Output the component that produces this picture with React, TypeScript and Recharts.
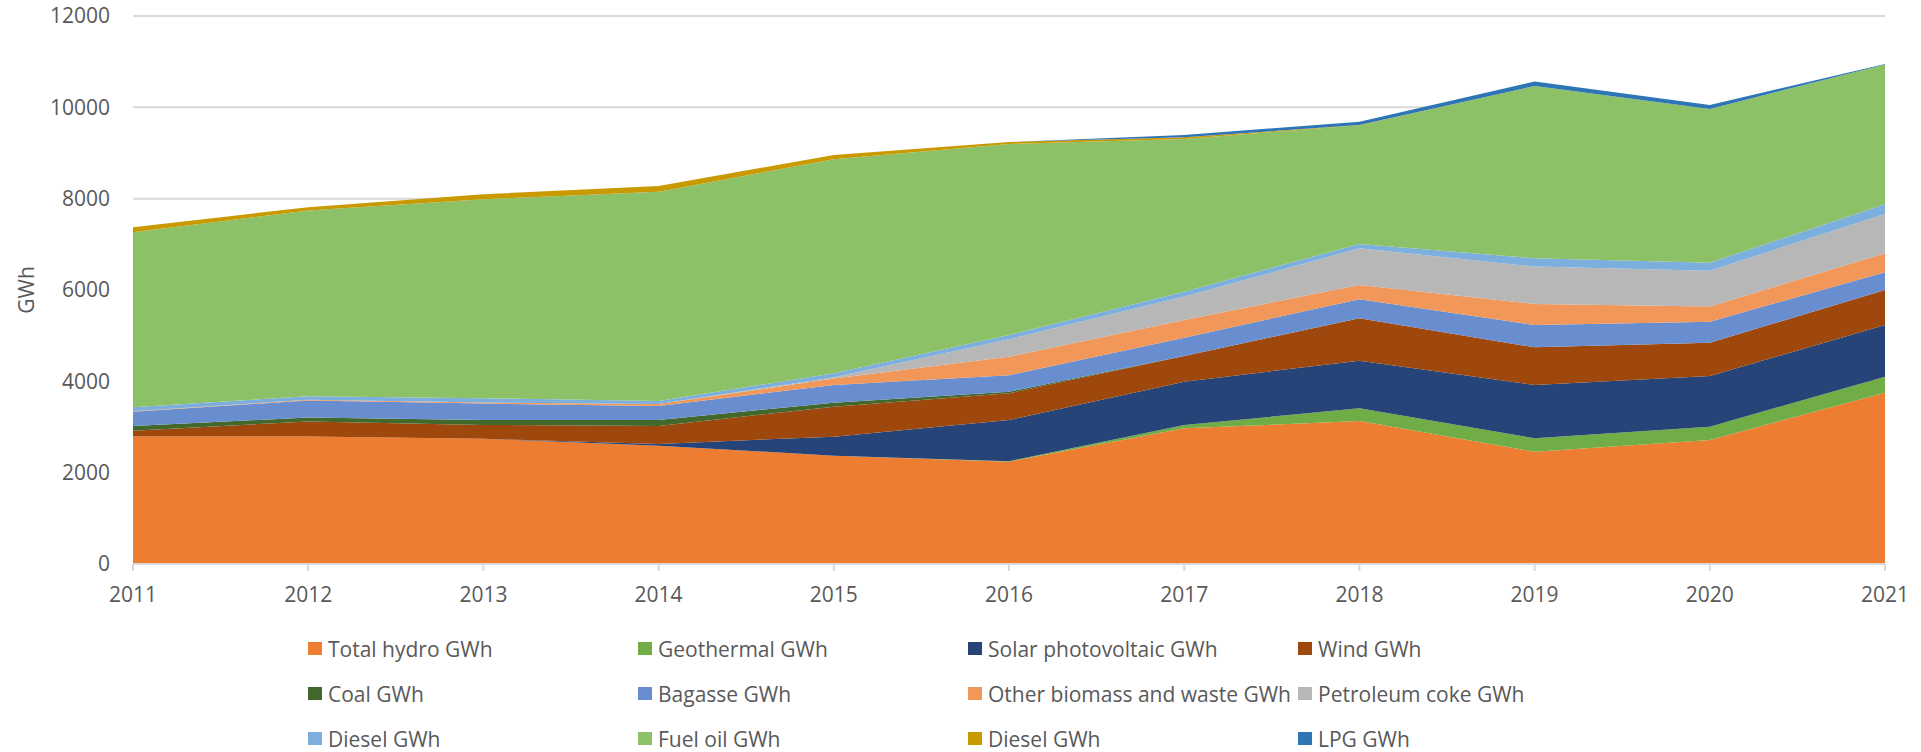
import { Area, AreaChart, CartesianGrid, Legend, XAxis, YAxis } from "recharts";

const years = ["2011", "2012", "2013", "2014", "2015", "2016", "2017", "2018", "2019", "2020", "2021"];

const hydro = [2790, 2790, 2740, 2590, 2372, 2241, 2971, 3132, 2460, 2716, 3752];
const geothermal = [0, 0, 0, 0, 0, 10, 73, 277, 292, 292, 351];
const solar = [0, 0, 0, 40, 417, 903, 949, 1044, 1168, 1109, 1131];
const wind = [130, 330, 306, 392, 657, 584, 562, 927, 825, 730, 767];
const coal = [100, 88, 110, 132, 87, 36, 0, 0, 0, 0, 0];
const bagasse = [315, 372, 356, 306, 387, 358, 402, 416, 489, 460, 387];
const otherBiomass = [10, 15, 23, 44, 140, 409, 387, 314, 460, 329, 416];
const petcoke = [0, 0, 0, 0, 30, 379, 511, 803, 818, 788, 861];
const dieselA = [90, 80, 95, 66, 86, 95, 109, 95, 182, 175, 212];
const fuelOil = [3830, 4066, 4358, 4584, 4686, 4183, 3343, 2599, 3774, 3366, 3063];
const dieselB = [110, 73, 110, 124, 95, 44, 37, 5, 0, 0, 0];
const lpg = [0, 0, 0, 0, 0, 0, 51, 75, 95, 87, 10];

const yTicks = [0, 2000, 4000, 6000, 8000, 10000, 12000];

const series = [
  { key: "hydro", name: "Total hydro GWh", color: "#ED7D31", values: hydro },
  { key: "geothermal", name: "Geothermal GWh", color: "#70AD47", values: geothermal },
  { key: "solar", name: "Solar photovoltaic GWh", color: "#264478", values: solar },
  { key: "wind", name: "Wind GWh", color: "#9E480E", values: wind },
  { key: "coal", name: "Coal GWh", color: "#43682B", values: coal },
  { key: "bagasse", name: "Bagasse GWh", color: "#698ED0", values: bagasse },
  { key: "otherBiomass", name: "Other biomass and waste GWh", color: "#F1975A", values: otherBiomass },
  { key: "petcoke", name: "Petroleum coke GWh", color: "#B7B7B7", values: petcoke },
  { key: "dieselA", name: "Diesel GWh", color: "#7CAFDD", values: dieselA },
  { key: "fuelOil", name: "Fuel oil GWh", color: "#8CC168", values: fuelOil },
  { key: "dieselB", name: "Diesel GWh", color: "#C99A00", values: dieselB },
  { key: "lpg", name: "LPG GWh", color: "#2E75B6", values: lpg },
];

const data = years.map((year, i) => {
  const row: Record<string, string | number> = { year };
  series.forEach((s) => {
    row[s.key] = s.values[i];
  });
  return row;
});

const FONT = "'Open Sans', sans-serif";
const TEXT = "#595959";
const FS = 21;

const renderLegend = () => (
  <div
    style={{
      display: "grid",
      gridTemplateColumns: "repeat(4, 330px)",
      marginLeft: 308,
      fontFamily: FONT,
      fontSize: FS,
      color: TEXT,
    }}
  >
    {series.map((s) => (
      <div key={s.key} style={{ display: "flex", alignItems: "center", height: 45 }}>
        <span style={{ width: 14, height: 13, background: s.color, marginRight: 6, display: "inline-block" }} />
        <span style={{ whiteSpace: "nowrap" }}>{s.name}</span>
      </div>
    ))}
  </div>
);

const renderYLabel = (props: any) => {
  const vb = props.viewBox || {};
  const cx = 26;
  const cy = (vb.y ?? 16) + (vb.height ?? 548) / 2;
  return (
    <text
      x={cx}
      y={cy}
      transform={`rotate(-90 ${cx} ${cy})`}
      textAnchor="middle"
      dominantBaseline="central"
      fill={TEXT}
      fontSize={FS}
      fontFamily={FONT}
    >
      GWh
    </text>
  );
};

export default function App() {
  return (
    <div style={{ position: "absolute", left: 0, top: 0 }}>
      <AreaChart
        width={1920}
        height={752}
        data={data}
        margin={{ top: 16, right: 35, left: 0, bottom: 158 }}
      >
        <CartesianGrid vertical={false} stroke="#d9d9d9" strokeWidth={2} />
        <XAxis
          dataKey="year"
          height={30}
          stroke="#d9d9d9"
          strokeWidth={2}
          tickSize={7}
          tickMargin={16}
          tick={{ fill: TEXT, fontSize: FS, fontFamily: FONT }}
          interval={0}
        />
        <YAxis
          width={133}
          domain={[0, 12000]}
          ticks={yTicks}
          axisLine={false}
          tickLine={false}
          tickSize={0}
          tickMargin={23}
          tick={{ fill: TEXT, fontSize: FS, fontFamily: FONT }}
          label={{ content: renderYLabel }}
        />
        {series.map((s) => (
          <Area
            key={s.key}
            type="linear"
            dataKey={s.key}
            name={s.name}
            stackId="1"
            stroke="none"
            fill={s.color}
            fillOpacity={1}
            isAnimationActive={false}
          />
        ))}
        <Legend
          layout="vertical"
          align="center"
          verticalAlign="middle"
          wrapperStyle={{ left: 0, top: 626, width: 1920 }}
          content={renderLegend}
        />
      </AreaChart>
    </div>
  );
}
